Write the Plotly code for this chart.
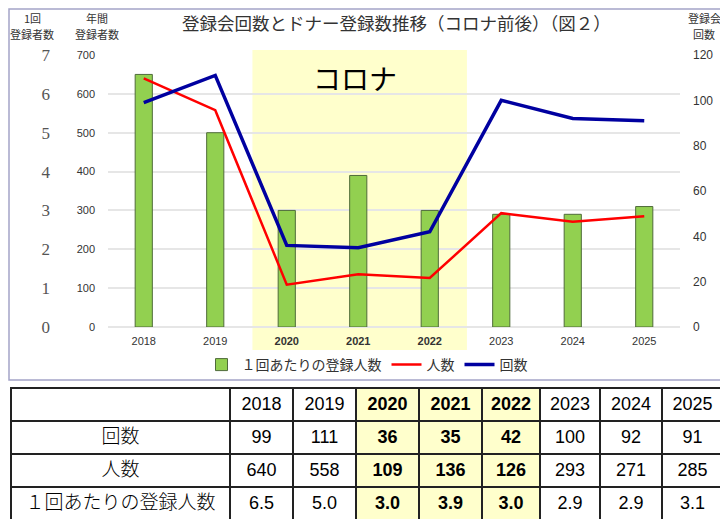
import plotly.graph_objects as go

# データ
years = ["2018", "2019", "2020", "2021", "2022", "2023", "2024", "2025"]
corona_years = ["2020", "2021", "2022"]
kaisu = [99, 111, 36, 35, 42, 100, 92, 91]          # 回数
ninzu = [640, 558, 109, 136, 126, 293, 271, 285]    # 人数
per_kai = [6.5, 5.0, 3.0, 3.9, 3.0, 2.9, 2.9, 3.1]  # 1回あたりの登録人数

# ページの余白 (body margin 8px) を差し引いた図のサイズ
OFF = 8
W, H = 728 - OFF, 530 - OFF
JP = "Noto Sans CJK JP"
NUM = "Liberation Sans"


def px_x(v):
    return max(v - OFF, 0) / W


def px_y(v):
    return 1 - max(v - OFF, 0) / H


fig = go.Figure()

fig.add_trace(go.Bar(
    x=years, y=per_kai, name="１回あたりの登録人数",
    marker=dict(color="#92D050", line=dict(color="#4f6b3a", width=1)),
    width=0.24, yaxis="y",
))
fig.add_trace(go.Scatter(
    x=years, y=ninzu, name="人数", mode="lines",
    line=dict(color="#FF0000", width=2.5), yaxis="y2",
))
fig.add_trace(go.Scatter(
    x=years, y=kaisu, name="回数", mode="lines",
    line=dict(color="#0000A0", width=3.5), yaxis="y3",
))

# 表
bold_cols = [y in corona_years for y in years]
row_names = ["回数", "人数", "１回あたりの登録人数"]
cells_vals = [row_names]
for i in range(len(years)):
    cells_vals.append([str(kaisu[i]), str(ninzu[i]), f"{per_kai[i]:.1f}"])
yellow = "#FFFFCC"
col_fill = ["white"] + [yellow if b else "white" for b in bold_cols]
col_weight = [300] + [700 if b else 400 for b in bold_cols]

fig.add_trace(go.Table(
    domain=dict(x=[px_x(11), px_x(723)], y=[px_y(520), px_y(388)]),
    columnwidth=[219, 63, 63, 63, 63, 58, 60, 62, 61],
    header=dict(values=[""] + years, height=33, align="center",
                fill_color=col_fill, line=dict(color="#222", width=1.2),
                font=dict(family=NUM, size=18, color="black", weight=col_weight)),
    cells=dict(values=cells_vals, height=33, align="center",
               fill_color=[[c] * 3 for c in col_fill],
               line=dict(color="#222", width=1.2),
               font=dict(family=[JP] + [NUM] * 8, size=[19] + [18] * 8,
                         color="black", weight=col_weight)),
))

grid = "#e6e6e6"
fig.update_layout(
    width=W, height=H,
    margin=dict(l=0, r=0, t=0, b=0, autoexpand=False),
    paper_bgcolor="white", plot_bgcolor="rgba(0,0,0,0)",
    xaxis=dict(domain=[px_x(108), px_x(680)], type="category",
               tickvals=years,
               ticktext=[f"<b>{y}</b>" if b else y for y, b in zip(years, bold_cols)],
               tickfont=dict(family=NUM, size=11, color="#333"),
               showgrid=False, showline=False, ticks="", ticklabelstandoff=6,
               automargin=False),
    yaxis=dict(domain=[px_y(327), px_y(55)], range=[0, 7], dtick=1,
               anchor="free", position=px_x(50), showgrid=False,
               tickfont=dict(family="Liberation Serif", size=17, color="#555"),
               showline=False, ticks="", zeroline=False, automargin=False),
    yaxis2=dict(range=[0, 700], dtick=100, overlaying="y", anchor="x",
                side="left", showgrid=True, gridcolor=grid, gridwidth=1.5,
                zeroline=True, zerolinecolor=grid, zerolinewidth=1.5,
                tickfont=dict(family=NUM, size=11, color="#333"),
                ticklabelstandoff=12, automargin=False),
    yaxis3=dict(range=[0, 120], dtick=20, overlaying="y", anchor="x",
                side="right", showgrid=False, zeroline=False,
                tickfont=dict(family=NUM, size=12, color="#333"),
                ticklabelstandoff=12, automargin=False),
    legend=dict(orientation="h", x=px_x(367), xanchor="center", y=px_y(349),
                yanchor="top", font=dict(family=JP, size=14, color="#333"),
                bgcolor="rgba(0,0,0,0)"),
    showlegend=True,
)

fig.add_shape(type="rect", xref="x", yref="paper", x0=1.52, x1=4.52,
              y0=px_y(350), y1=px_y(50), fillcolor="#FFFFCC",
              line=dict(width=0), layer="below")
fig.add_shape(type="rect", xref="paper", yref="paper",
              x0=px_x(9), x1=px_x(722), y0=px_y(380), y1=px_y(9),
              line=dict(color="#a4a4c8", width=1.5))

notes = [
    ("コロナ", 355, 78, 28, "black"),
    ("登録会回数とドナー登録数推移（コロナ前後）（図２）", 396, 22, 17.5, "#333"),
    ("1回", 32, 18, 11, "#333"),
    ("登録者数", 32, 34, 11, "#333"),
    ("年間", 97, 18, 11, "#333"),
    ("登録者数", 97, 34, 11, "#333"),
    ("登録会", 704, 18, 11, "#333"),
    ("回数", 704, 34, 11, "#333"),
]
for text, x, y, size, color in notes:
    fig.add_annotation(text=text, x=px_x(x), y=px_y(y), xref="paper", yref="paper",
                       showarrow=False, align="center", xanchor="center", yanchor="middle",
                       font=dict(family=JP, size=size, color=color))

fig.write_html("out.html")
